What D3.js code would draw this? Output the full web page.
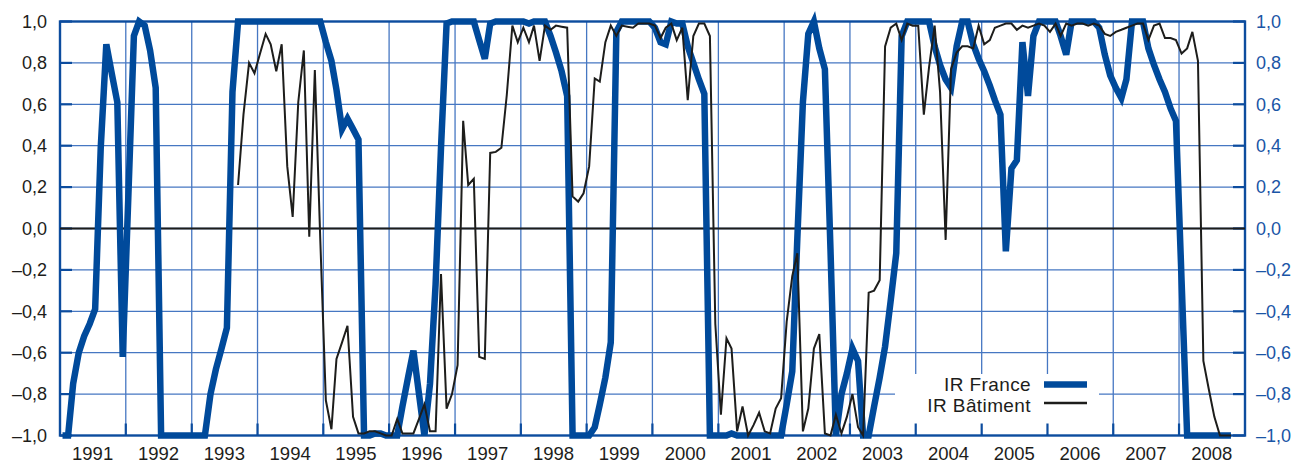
<!DOCTYPE html>
<html>
<head>
<meta charset="utf-8">
<script src="https://cdn.jsdelivr.net/npm/d3@7"></script>
<style>
  body { margin: 0; background: #fff; }
  svg { display: block; font-family: "Liberation Sans", Arial, sans-serif; }
</style>
</head>
<body>
<div id="chart"></div>
<script>
// monthly series, first value = January 1991
const startYear = 1991;
const yearLabels = ["1991", "1992", "1993", "1994", "1995", "1996", "1997", "1998", "1999",
  "2000", "2001", "2002", "2003", "2004", "2005", "2006", "2007", "2008"];
const yTicks = [-1, -0.8, -0.6, -0.4, -0.2, 0, 0.2, 0.4, 0.6, 0.8, 1];

const irFrance = [
  -1.0, -1.0, -0.75, -0.6, -0.52, -0.46, -0.39, 0.39, 0.89, 0.75, 0.61, -0.62,   // 1991
  0.15, 0.93, 1.0, 0.98, 0.86, 0.68, -1.0, -1.0, -1.0, -1.0, -1.0, -1.0,         // 1992
  -1.0, -1.0, -1.0, -0.8, -0.68, -0.58, -0.48, 0.66, 1.0, 1.0, 1.0, 1.0,         // 1993
  1.0, 1.0, 1.0, 1.0, 1.0, 1.0, 1.0, 1.0, 1.0, 1.0, 1.0, 1.0,                    // 1994
  0.9, 0.81, 0.67, 0.48, 0.53, 0.48, 0.43, -1.0, -1.0, -0.99, -0.99, -1.0,       // 1995
  -1.0, -1.0, -0.86, -0.72, -0.59, -0.8, -1.0, -0.75, -0.27, 0.39, 0.99, 1.0,    // 1996
  1.0, 1.0, 1.0, 1.0, 0.91, 0.82, 0.99, 1.0, 1.0, 1.0, 1.0, 1.0,                 // 1997
  1.0, 0.99, 1.0, 1.0, 1.0, 0.93, 0.85, 0.76, 0.64, -1.0, -1.0, -1.0,            // 1998
  -1.0, -0.96, -0.85, -0.72, -0.55, 0.95, 1.0, 1.0, 1.0, 1.0, 1.0, 1.0,          // 1999
  0.97, 0.9, 0.89, 1.0, 0.99, 0.99, 0.88, 0.8, 0.72, 0.65, -1.0, -1.0,           // 2000
  -1.0, -1.0, -0.99, -1.0, -1.0, -1.0, -1.0, -1.0, -1.0, -1.0, -1.0, -1.0,       // 2001
  -0.85, -0.69, -0.05, 0.61, 0.94, 1.0, 0.87, 0.77, -0.1, -1.0, -0.8, -0.7,      // 2002
  -0.58, -0.64, -1.0, -1.0, -0.86, -0.72, -0.57, -0.35, -0.12, 0.93, 1.0, 1.0,   // 2003
  1.0, 1.0, 1.0, 0.88, 0.79, 0.72, 0.68, 0.88, 1.0, 1.0, 0.89, 0.82,             // 2004
  0.76, 0.69, 0.62, 0.55, -0.11, 0.29, 0.33, 0.9, 0.64, 0.93, 1.0, 1.0,          // 2005
  1.0, 1.0, 0.93, 0.84, 1.0, 1.0, 1.0, 1.0, 1.0, 0.97, 0.84, 0.74,               // 2006
  0.68, 0.63, 0.72, 1.0, 1.0, 1.0, 0.87, 0.79, 0.72, 0.66, 0.58, 0.52,           // 2007
  -0.25, -1.0, -1.0, -1.0, -1.0, -1.0, -1.0, -1.0, -1.0, -1.0                    // 2008
];

const irBatiment = [
  null, null, null, null, null, null, null, null, null, null, null, null,        // 1991
  null, null, null, null, null, null, null, null, null, null, null, null,        // 1992
  null, null, null, null, null, null, null, null, 0.21, 0.55, 0.8, 0.75,         // 1993
  0.845, 0.94, 0.89, 0.76, 0.89, 0.3, 0.056, 0.61, 0.86, -0.04, 0.765, -0.05,    // 1994
  -0.83, -0.97, -0.63, -0.55, -0.47, -0.91, -0.99, -0.99, -0.98, -0.98, -0.99, -1.0, // 1995
  -1.0, -0.92, -0.99, -0.99, -0.99, -0.92, -0.85, -0.98, -0.98, -0.22, -0.87, -0.8,  // 1996
  -0.66, 0.52, 0.21, 0.24, -0.62, -0.63, 0.365, 0.37, 0.39, 0.645, 0.98, 0.9,    // 1997
  0.97, 0.9, 0.98, 0.81, 0.98, 0.96, 0.98, 0.975, 0.97, 0.155, 0.13, 0.17,       // 1998
  0.3, 0.725, 0.71, 0.9, 0.98, 0.93, 0.98, 0.975, 0.97, 0.99, 0.99, 0.99,        // 1999
  0.98, 0.92, 0.97, 0.99, 0.91, 0.97, 0.62, 0.93, 0.99, 0.99, 0.93, -0.46,       // 2000
  -0.9, -0.53, -0.58, -0.98, -0.86, -1.0, -0.95, -0.89, -0.98, -0.99, -0.87, -0.82, // 2001
  -0.45, -0.23, -0.12, -0.98, -0.87, -0.58, -0.51, -0.99, -1.0, -0.9, -0.99, -0.91, // 2002
  -0.8, -0.96, -1.0, -0.31, -0.3, -0.25, 0.88, 0.97, 0.99, 0.91, 0.99, 0.98,     // 2003
  0.98, 0.55, 0.78, 0.98, 0.66, -0.055, 0.77, 0.85, 0.88, 0.88, 0.87, 0.98,      // 2004
  0.89, 0.91, 0.97, 0.98, 0.99, 0.99, 0.96, 0.98, 0.97, 0.98, 0.99, 0.98,        // 2005
  0.95, 0.99, 0.93, 0.99, 0.98, 0.99, 0.99, 0.98, 0.99, 0.98, 0.94, 0.93,        // 2006
  0.95, 0.96, 0.97, 0.98, 0.99, 0.99, 0.91, 0.98, 0.99, 0.92, 0.92, 0.91,        // 2007
  0.845, 0.87, 0.95, 0.81, -0.64, -0.78, -0.91, -1.0, -1.0, -1.0                 // 2008
];

const width = 1297;
const height = 465;
const margin = { top: 21.5, right: 52, bottom: 29.5, left: 60 };

const frameBlue = "#0c4c9e";
const gridBlue = "#4677c2";
const lineBlue = "#004a9b";

const svg = d3.select("#chart")
  .append("svg")
  .attr("width", width)
  .attr("height", height);

const x = d3.scaleTime()
  .domain([new Date(startYear, 0, 1), new Date(startYear + yearLabels.length, 0, 1)])
  .range([margin.left, width - margin.right]);

const y = d3.scaleLinear()
  .domain([-1, 1])
  .range([height - margin.bottom, margin.top]);

const monthDate = i => new Date(startYear, i, 15);
const fmt = v => (v < 0 ? "–" : "") + Math.abs(v).toFixed(1).replace(".", ",");

const plotLeft = margin.left, plotRight = width - margin.right;
const plotTop = margin.top, plotBottom = height - margin.bottom;
const yearStarts = d3.range(1, yearLabels.length).map(k => new Date(startYear + k, 0, 1));

// grid
svg.append("g")
  .selectAll("line")
  .data(yTicks.slice(1, -1))
  .join("line")
  .attr("x1", plotLeft).attr("x2", plotRight)
  .attr("y1", d => y(d)).attr("y2", d => y(d))
  .attr("stroke", gridBlue)
  .attr("stroke-width", 1.3);

svg.append("g")
  .selectAll("line")
  .data(yearStarts)
  .join("line")
  .attr("x1", d => x(d)).attr("x2", d => x(d))
  .attr("y1", plotTop).attr("y2", plotBottom)
  .attr("stroke", gridBlue)
  .attr("stroke-width", 1.3);

// legend background hides the grid
svg.append("rect")
  .attr("x", 895).attr("y", 374)
  .attr("width", 204).attr("height", 60)
  .attr("fill", "#fff");

// inner tick marks
const ticks = svg.append("g").attr("stroke", frameBlue).attr("stroke-width", 2.2);
ticks.selectAll(".tl")
  .data(yTicks)
  .join("line")
  .attr("x1", plotLeft).attr("x2", plotLeft + 12)
  .attr("y1", d => y(d)).attr("y2", d => y(d));
ticks.selectAll(".tr")
  .data(yTicks)
  .join("line")
  .attr("x1", plotRight - 12).attr("x2", plotRight)
  .attr("y1", d => y(d)).attr("y2", d => y(d));
ticks.selectAll(".tb")
  .data(yearStarts)
  .join("line")
  .attr("x1", d => x(d)).attr("x2", d => x(d))
  .attr("y1", plotBottom - 12).attr("y2", plotBottom);

// frame
svg.append("rect")
  .attr("x", plotLeft).attr("y", plotTop)
  .attr("width", plotRight - plotLeft).attr("height", plotBottom - plotTop)
  .attr("fill", "none")
  .attr("stroke", frameBlue)
  .attr("stroke-width", 2.4);

// zero line
svg.append("line")
  .attr("x1", plotLeft).attr("x2", plotRight)
  .attr("y1", y(0)).attr("y2", y(0))
  .attr("stroke", "#1d1d1b")
  .attr("stroke-width", 2);

// axes
function yAxisLeft(g) {
  g.attr("transform", `translate(${plotLeft},0)`)
    .call(d3.axisLeft(y).tickValues(yTicks).tickFormat(fmt).tickSize(0).tickPadding(13))
    .call(g => g.select(".domain").remove())
    .attr("font-size", "18px")
    .attr("font-family", "Liberation Sans, Arial, sans-serif")
    .selectAll("text").attr("fill", "#1d1d1b");
}

function yAxisRight(g) {
  g.attr("transform", `translate(${plotRight},0)`)
    .call(d3.axisRight(y).tickValues(yTicks).tickFormat(fmt).tickSize(0).tickPadding(11))
    .call(g => g.select(".domain").remove())
    .attr("font-size", "18px")
    .attr("font-family", "Liberation Sans, Arial, sans-serif")
    .selectAll("text").attr("fill", "#1a55a6");
}

svg.append("g").call(yAxisLeft);
svg.append("g").call(yAxisRight);

svg.append("g")
  .selectAll("text")
  .data(yearLabels)
  .join("text")
  .attr("x", (d, k) => x(new Date(startYear + k, 6, 1)))
  .attr("y", 460)
  .attr("text-anchor", "middle")
  .attr("font-size", "18.5px")
  .attr("fill", "#1d1d1b")
  .text(d => d);

// series
const line = d3.line()
  .defined(d => d != null)
  .x((d, i) => x(monthDate(i)))
  .y(d => y(d));

svg.append("path")
  .datum(irFrance)
  .attr("d", line)
  .attr("fill", "none")
  .attr("stroke", lineBlue)
  .attr("stroke-width", 6.5)
  .attr("stroke-linejoin", "miter");

svg.append("path")
  .datum(irBatiment)
  .attr("d", line)
  .attr("fill", "none")
  .attr("stroke", "#1d1d1b")
  .attr("stroke-width", 2);

// legend
const legend = svg.append("g")
  .attr("font-size", "19px")
  .attr("fill", "#1d1d1b")
  .attr("text-anchor", "end");

legend.append("text").attr("x", 1031).attr("y", 391).attr("letter-spacing", 0.4).text("IR France");
legend.append("text").attr("x", 1031).attr("y", 411.5).attr("letter-spacing", 0.4).text("IR Bâtiment");

legend.append("line")
  .attr("x1", 1044).attr("x2", 1087)
  .attr("y1", 384.5).attr("y2", 384.5)
  .attr("stroke", lineBlue).attr("stroke-width", 6.5);
legend.append("line")
  .attr("x1", 1044).attr("x2", 1087)
  .attr("y1", 403).attr("y2", 403)
  .attr("stroke", "#1d1d1b").attr("stroke-width", 2.5);
</script>
</body>
</html>
